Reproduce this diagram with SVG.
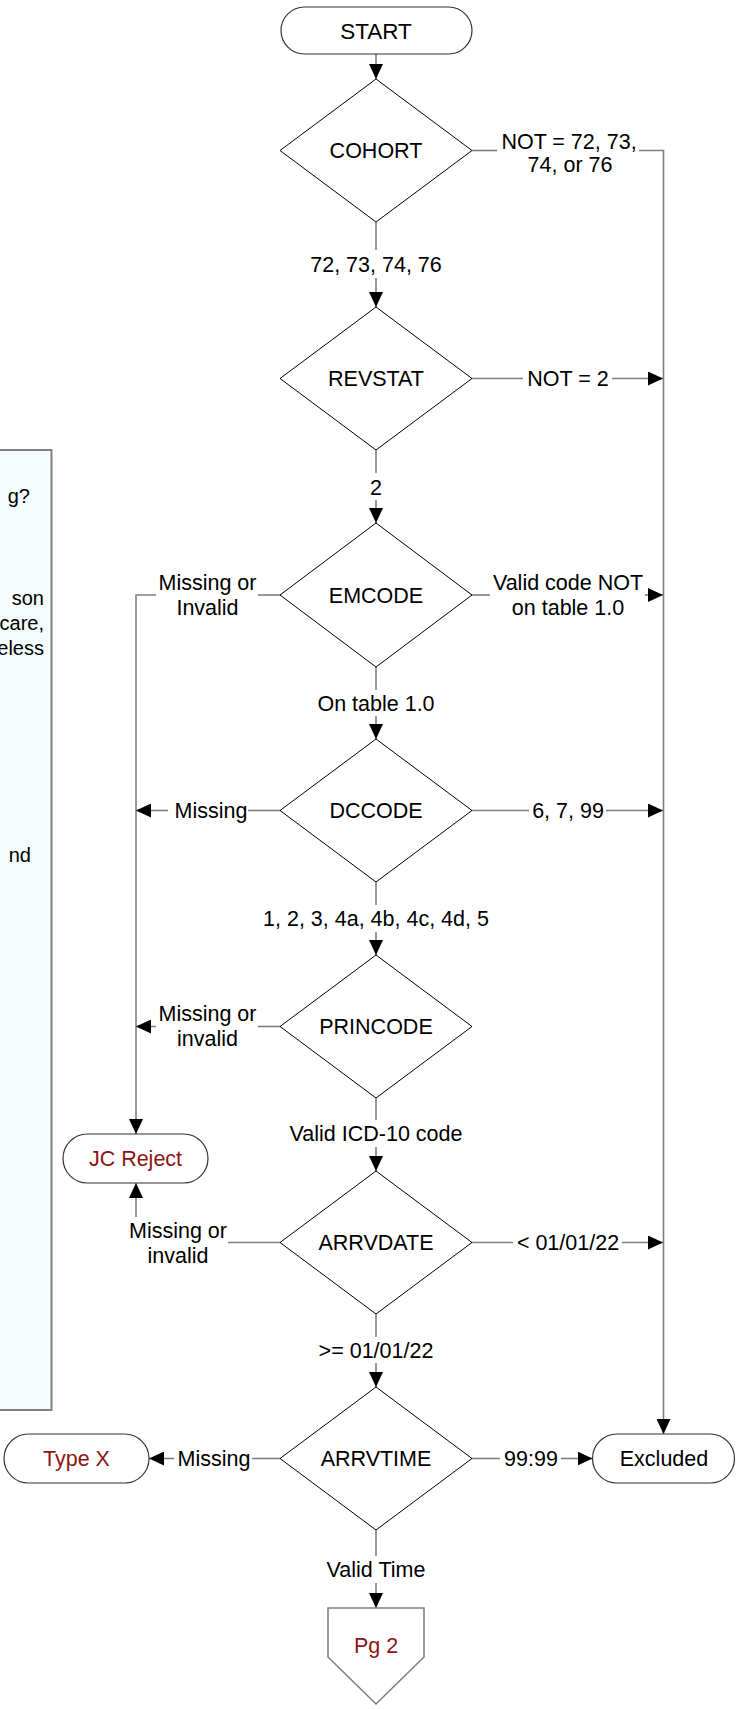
<svg xmlns="http://www.w3.org/2000/svg" width="736" height="1709" viewBox="0 0 736 1709">
<style>
  text{font-family:"Liberation Sans",Arial,sans-serif;font-size:21.5px;fill:#000;text-anchor:middle}
  .red{fill:#8f1414}
  .dia{fill:#fff;stroke:#000;stroke-width:1}
  .term{fill:#fff;stroke:#333;stroke-width:1.2}
  .con{fill:none;stroke:#7f7f7f;stroke-width:1.6}
  .note{text-anchor:end;font-size:20px}
</style>
<defs>
  <marker id="ah" markerUnits="userSpaceOnUse" markerWidth="15" markerHeight="14" refX="15" refY="7" orient="auto">
    <path d="M0,0 L15,7 L0,14 z" fill="#000"/>
  </marker>
</defs>
<rect width="736" height="1709" fill="#fff"/>

<g id="notebox">
  <rect x="-2" y="450" width="53.5" height="960" fill="#f4fcfd" stroke="#808080" stroke-width="2"/>
  <text class="note" x="30" y="503">g?</text>
  <text class="note" x="44" y="605">son</text>
  <text class="note" x="44" y="630">care,</text>
  <text class="note" x="44" y="655">eless</text>
  <text class="note" x="31" y="862">nd</text>
</g>

<g id="connectors">
  <line class="con" x1="376" y1="54" x2="376" y2="79" marker-end="url(#ah)"/>
  <line class="con" x1="376" y1="222" x2="376" y2="250"/>
  <line class="con" x1="376" y1="278" x2="376" y2="307" marker-end="url(#ah)"/>
  <line class="con" x1="376" y1="450" x2="376" y2="473"/>
  <line class="con" x1="376" y1="500" x2="376" y2="523" marker-end="url(#ah)"/>
  <line class="con" x1="376" y1="667" x2="376" y2="690"/>
  <line class="con" x1="376" y1="716" x2="376" y2="739" marker-end="url(#ah)"/>
  <line class="con" x1="376" y1="882" x2="376" y2="905"/>
  <line class="con" x1="376" y1="932" x2="376" y2="955" marker-end="url(#ah)"/>
  <line class="con" x1="376" y1="1098" x2="376" y2="1120"/>
  <line class="con" x1="376" y1="1147" x2="376" y2="1171" marker-end="url(#ah)"/>
  <line class="con" x1="376" y1="1314" x2="376" y2="1337"/>
  <line class="con" x1="376" y1="1363" x2="376" y2="1387" marker-end="url(#ah)"/>
  <line class="con" x1="376" y1="1530" x2="376" y2="1556"/>
  <line class="con" x1="376" y1="1583" x2="376" y2="1608" marker-end="url(#ah)"/>

  <line class="con" x1="472" y1="150.5" x2="497" y2="150.5"/>
  <path class="con" d="M639,150.5 H663.5 V1434" marker-end="url(#ah)"/>
  <line class="con" x1="472" y1="378.5" x2="523" y2="378.5"/>
  <line class="con" x1="612" y1="378.5" x2="663" y2="378.5" marker-end="url(#ah)"/>
  <line class="con" x1="472" y1="595" x2="490" y2="595"/>
  <line class="con" x1="645" y1="595" x2="663" y2="595" marker-end="url(#ah)"/>
  <line class="con" x1="472" y1="810.5" x2="529" y2="810.5"/>
  <line class="con" x1="606" y1="810.5" x2="663" y2="810.5" marker-end="url(#ah)"/>
  <line class="con" x1="472" y1="1242.5" x2="513" y2="1242.5"/>
  <line class="con" x1="622" y1="1242.5" x2="663" y2="1242.5" marker-end="url(#ah)"/>
  <line class="con" x1="472" y1="1458.5" x2="500" y2="1458.5"/>
  <line class="con" x1="561" y1="1458.5" x2="592.5" y2="1458.5" marker-end="url(#ah)"/>

  <line class="con" x1="280" y1="595" x2="258" y2="595"/>
  <path class="con" d="M156,595 H136 V1134" marker-end="url(#ah)"/>
  <line class="con" x1="280" y1="810.5" x2="248" y2="810.5"/>
  <line class="con" x1="168" y1="810.5" x2="136" y2="810.5" marker-end="url(#ah)"/>
  <line class="con" x1="280" y1="1026.5" x2="258" y2="1026.5"/>
  <line class="con" x1="156" y1="1026.5" x2="136" y2="1026.5" marker-end="url(#ah)"/>
  <line class="con" x1="280" y1="1242.5" x2="228" y2="1242.5"/>
  <line class="con" x1="136" y1="1217" x2="136" y2="1183" marker-end="url(#ah)"/>
  <line class="con" x1="280" y1="1458.5" x2="252" y2="1458.5"/>
  <line class="con" x1="174" y1="1458.5" x2="149" y2="1458.5" marker-end="url(#ah)"/>

  <text x="376" y="271.5">72, 73, 74, 76</text>
  <text x="376" y="494.5">2</text>
  <text x="376" y="710.5">On table 1.0</text>
  <text x="376" y="925.5">1, 2, 3, 4a, 4b, 4c, 4d, 5</text>
  <text x="376" y="1140.5">Valid ICD-10 code</text>
  <text x="376" y="1357.5">&gt;= 01/01/22</text>
  <text x="376" y="1576.5">Valid Time</text>

  <text x="569" y="149">NOT = 72, 73,</text>
  <text x="570" y="172">74, or 76</text>
  <text x="568" y="386">NOT = 2</text>
  <text x="568" y="589.5">Valid code NOT</text>
  <text x="568" y="614.5">on table 1.0</text>
  <text x="568" y="818">6, 7, 99</text>
  <text x="568" y="1250">&lt; 01/01/22</text>
  <text x="531" y="1466">99:99</text>

  <text x="207.5" y="589.5">Missing or</text>
  <text x="207.5" y="614.5">Invalid</text>
  <text x="211" y="818">Missing</text>
  <text x="207.5" y="1020.5">Missing or</text>
  <text x="207.5" y="1045.5">invalid</text>
  <text x="178" y="1237.5">Missing or</text>
  <text x="178" y="1262.5">invalid</text>
  <text x="214" y="1466">Missing</text>
</g>

<g id="start">
  <rect class="term" x="281" y="7" width="191" height="47" rx="23.5"/>
  <text x="376" y="38.5" style="font-size:22.5px">START</text>
</g>
<g id="cohort">
  <polygon class="dia" points="376,79 472,150.5 376,222 280,150.5"/>
  <text x="376" y="158">COHORT</text>
</g>
<g id="revstat">
  <polygon class="dia" points="376,307 472,378.5 376,450 280,378.5"/>
  <text x="376" y="386">REVSTAT</text>
</g>
<g id="emcode">
  <polygon class="dia" points="376,523 472,595 376,667 280,595"/>
  <text x="376" y="602.5">EMCODE</text>
</g>
<g id="dccode">
  <polygon class="dia" points="376,739 472,810.5 376,882 280,810.5"/>
  <text x="376" y="818">DCCODE</text>
</g>
<g id="princode">
  <polygon class="dia" points="376,955 472,1026.5 376,1098 280,1026.5"/>
  <text x="376" y="1034">PRINCODE</text>
</g>
<g id="arrvdate">
  <polygon class="dia" points="376,1171 472,1242.5 376,1314 280,1242.5"/>
  <text x="376" y="1250">ARRVDATE</text>
</g>
<g id="arrvtime">
  <polygon class="dia" points="376,1387 472,1458.5 376,1530 280,1458.5"/>
  <text x="376" y="1466">ARRVTIME</text>
</g>
<g id="jcreject">
  <rect class="term" x="63" y="1134" width="145" height="49" rx="24.5"/>
  <text class="red" x="135.5" y="1166">JC Reject</text>
</g>
<g id="typex">
  <rect class="term" x="4" y="1434" width="145" height="49" rx="24.5"/>
  <text class="red" x="76.5" y="1466">Type X</text>
</g>
<g id="excluded">
  <rect class="term" x="592.5" y="1434" width="142" height="49" rx="24.5"/>
  <text x="664" y="1466">Excluded</text>
</g>
<g id="pg2">
  <polygon points="328,1608 424,1608 424,1657 376,1704 328,1657" fill="#fff" stroke="#7f7f7f" stroke-width="1.6"/>
  <text class="red" x="376" y="1652.5">Pg 2</text>
</g>
</svg>
